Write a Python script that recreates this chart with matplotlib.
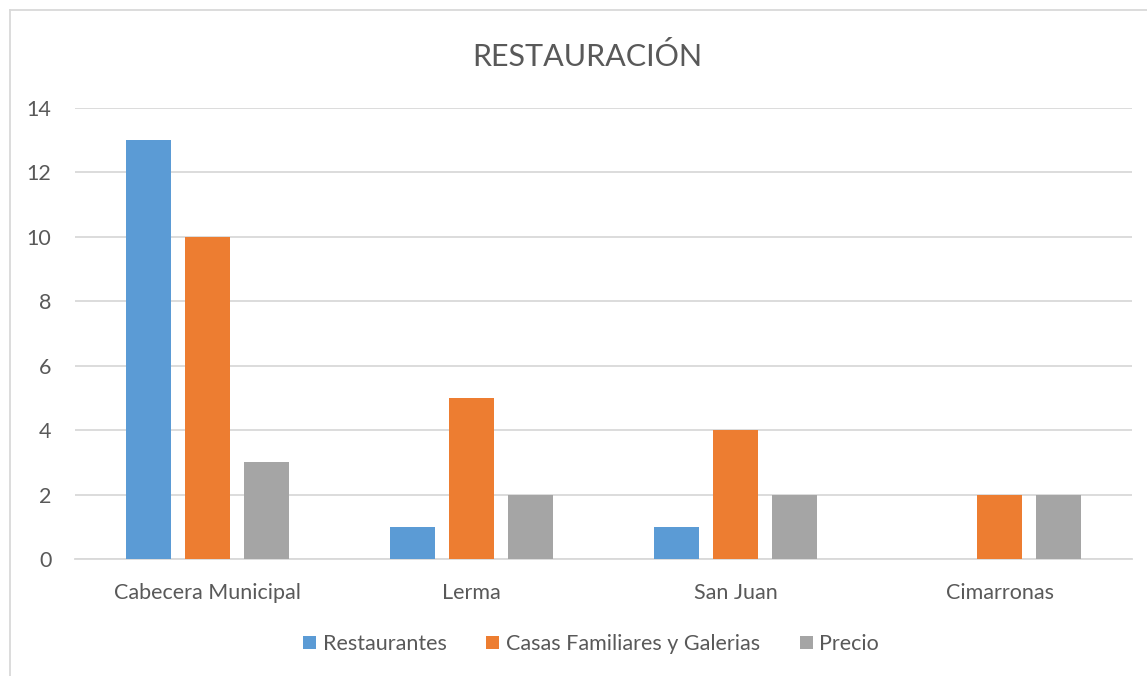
import numpy as np
import matplotlib.pyplot as plt
from matplotlib.lines import Line2D

categories = ['Cabecera Municipal', 'Lerma', 'San Juan', 'Cimarronas']
restaurantes = [13, 1, 1, 0]
casas = [10, 5, 4, 2]
precio = [3, 2, 2, 2]
series_names = ['Restaurantes', 'Casas Familiares y Galerias', 'Precio']
colors = ['#5B9BD5', '#ED7D31', '#A5A5A5']
yticks = [0, 2, 4, 6, 8, 10, 12, 14]

plt.rcParams['font.family'] = ['Lato', 'DejaVu Sans']
txt = '#595959'

fig = plt.figure(figsize=(11.47, 6.76), dpi=100)
ax = fig.add_axes([75 / 1147, 117 / 676, 1057 / 1147, 451 / 676])

x = np.arange(len(categories))
w = 0.17
off = 0.223
for i, (vals, name, c) in enumerate(zip([restaurantes, casas, precio], series_names, colors)):
    ax.bar(x + (i - 1) * off, vals, width=w, color=c, label=name, zorder=3)

ax.set_xlim(-0.5, 3.5)
ax.set_ylim(0, 14)
ax.set_yticks(yticks)
ax.set_xticks(x)
ax.set_xticklabels(categories)
ax.grid(axis='y', color='#D9D9D9', linewidth=1.3, zorder=0)
for s in ['top', 'right', 'left']:
    ax.spines[s].set_visible(False)
ax.spines['bottom'].set_color('#D9D9D9')
ax.spines['bottom'].set_linewidth(1.3)
ax.tick_params(axis='both', length=0, labelsize=15.5, colors=txt)
ax.tick_params(axis='y', pad=17)
ax.tick_params(axis='x', pad=17)

fig.text(587 / 1147, 1 - 56 / 676, 'RESTAURACIÓN', ha='center', va='center',
         fontsize=22, color=txt)

ax.legend(loc='center', bbox_to_anchor=(591 / 1147, 1 - 644 / 676),
          bbox_transform=fig.transFigure, ncol=3, frameon=False,
          fontsize=15.5, labelcolor=txt, handlelength=0.6, handleheight=0.6,
          handletextpad=0.3, columnspacing=1.85)

fx = 10 / 1147
fy = 1 - 10 / 676
fig.add_artist(Line2D([fx, fx], [0, fy], transform=fig.transFigure, color='#D9D9D9', lw=1.3))
fig.add_artist(Line2D([fx, 1], [fy, fy], transform=fig.transFigure, color='#D9D9D9', lw=1.3))

fig.savefig('out.png', dpi=100)
